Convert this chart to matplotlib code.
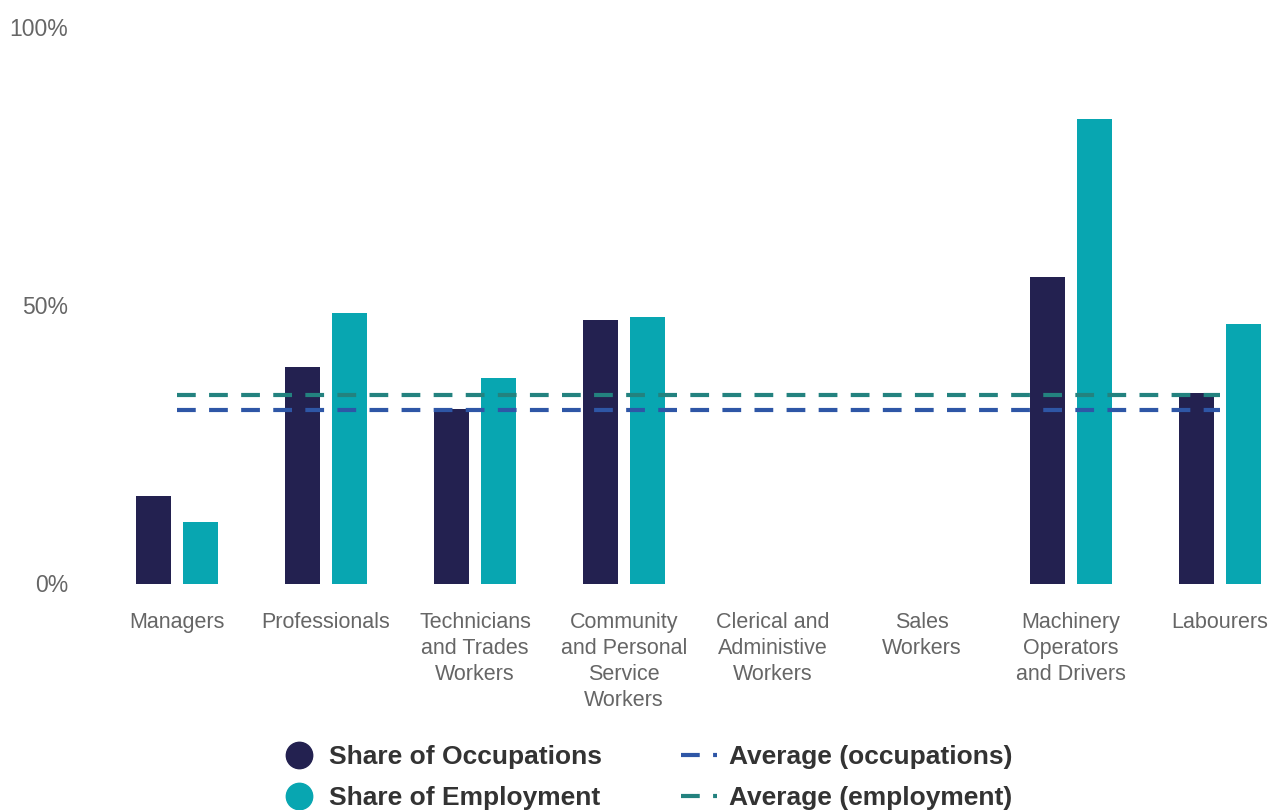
import matplotlib
matplotlib.use("Agg")
import matplotlib.pyplot as plt
from matplotlib.lines import Line2D
import numpy as np

plt.rcParams['font.family'] = ['Liberation Sans', 'DejaVu Sans']

# data (percent)
categories = [
    "Managers",
    "Professionals",
    "Technicians\nand Trades\nWorkers",
    "Community\nand Personal\nService\nWorkers",
    "Clerical and\nAdministive\nWorkers",
    "Sales\nWorkers",
    "Machinery\nOperators\nand Drivers",
    "Labourers",
]
share_occupations = [15.7, 38.9, 31.4, 47.4, 0, 0, 55.1, 34.2]
share_employment = [11.1, 48.6, 36.9, 47.9, 0, 0, 83.5, 46.6]
avg_occupations = 31.2
avg_employment = 33.9

y_ticks = [0, 50, 100]
y_tick_labels = ["0%", "50%", "100%"]

col_occ = "#232150"
col_emp = "#08a6b1"
col_avg_occ = "#2e56a6"
col_avg_emp = "#23827f"

fig = plt.figure(figsize=(12.7, 8.1), dpi=100)
# axes placed so that category centres land where the reference has them
ax = fig.add_axes([110 / 1270, (810 - 583.5) / 810, (1268 - 110) / 1270, (583.5 - 27) / 810])

x = np.arange(len(categories))
w = 0.235
off = 0.158
ax.bar(x - off, share_occupations, w, color=col_occ, zorder=2)
ax.bar(x + off, share_employment, w, color=col_emp, zorder=2)

dash = (4.5, 3.2)
ax.plot(x, [avg_employment] * len(x), color=col_avg_emp, lw=3, dashes=dash, zorder=3)
ax.plot(x, [avg_occupations] * len(x), color=col_avg_occ, lw=3, dashes=dash, zorder=3)

ax.set_xlim((110 - 177) / 149, (1268 - 177) / 149)
ax.set_ylim(0, 100)

ax.set_xticks(x)
ax.set_xticklabels(categories, fontsize=15.5, color="#666666", linespacing=1.31)
ax.set_yticks(y_ticks)
ax.set_yticklabels(y_tick_labels, fontsize=16.5, color="#666666")
ax.tick_params(axis='both', length=0)
ax.tick_params(axis='x', pad=20.5)
ax.tick_params(axis='y', pad=30)
for s in ax.spines.values():
    s.set_visible(False)

handles = [
    Line2D([], [], ls='none', marker='o', markersize=19, color=col_occ),
    Line2D([], [], ls='none', marker='o', markersize=19, color=col_emp),
    Line2D([], [], color=col_avg_occ, lw=3, dashes=dash),
    Line2D([], [], color=col_avg_emp, lw=3, dashes=dash),
]
labels = ["Share of Occupations", "Share of Employment",
          "Average (occupations)", "Average (employment)"]
leg = fig.legend(handles, labels, ncol=2, frameon=False,
                 loc='upper left', bbox_to_anchor=(281 / 1270, 1 - 745 / 810),
                 borderpad=0, borderaxespad=0, handlelength=1.36,
                 handletextpad=0.45, columnspacing=3.0, labelspacing=0.64,
                 prop={'size': 19, 'weight': 'bold'})
for t in leg.get_texts():
    t.set_color("#333333")

fig.savefig("out.png", dpi=100)
